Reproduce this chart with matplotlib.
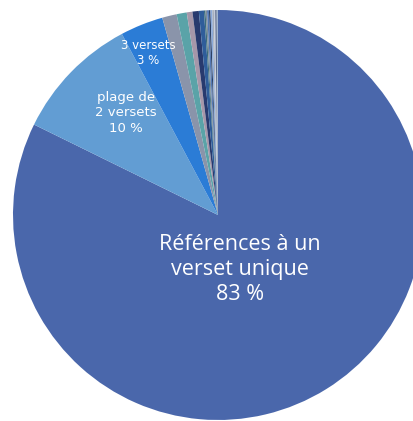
import matplotlib.pyplot as plt

labels = ["Références à un\nverset unique\n83 %", "plage de\n2 versets\n10 %", "3 versets\n3 %"]
values = [82.6, 10.0, 3.4, 1.15, 0.8, 0.45, 0.5, 0.4,
          0.12, 0.12, 0.15, 0.12, 0.15, 0.12, 0.1, 0.12, 0.1]
colors = ["#4a67ab", "#629dd3", "#2b7cd6", "#8a94aa", "#5aa3a8", "#a697a9",
          "#283a6e", "#2f5d9a", "#3c6d7c", "#7b8b9a", "#5378b4", "#2b4064",
          "#8aa9d9", "#a3acbb", "#c2cad9", "#5b6b8c", "#9fb4cf"]

W, H, dpi = 414, 421, 100
cx, cy, R = 218, 215, 205


def px(x, y):
    # pixel position -> data position (pie radius = 1)
    return (x - cx) / R, (cy - y) / R


fig = plt.figure(figsize=(W / dpi, H / dpi), dpi=dpi)
ax = fig.add_axes([0, 0, 1, 1])
ax.pie(values, colors=colors, startangle=90, counterclock=False, radius=1,
       wedgeprops=dict(linewidth=0))
ax.set_xlim((0 - cx) / R, (W - cx) / R)
ax.set_ylim((cy - H) / R, cy / R)
ax.set_aspect("auto")
ax.axis("off")

x, y = px(240, 269)
ax.text(x, y, labels[0], color="white", fontsize=15.5, ha="center", va="center",
        family="Open Sans", linespacing=1.25)
x, y = px(126, 113)
ax.text(x, y, labels[1], color="white", fontsize=9.5, ha="center", va="center",
        family="DejaVu Sans", linespacing=1.25)
x, y = px(148, 53)
ax.text(x, y, labels[2], color="white", fontsize=8.5, ha="center", va="center",
        family="DejaVu Sans", linespacing=1.25)

plt.savefig("out.png", dpi=dpi)
